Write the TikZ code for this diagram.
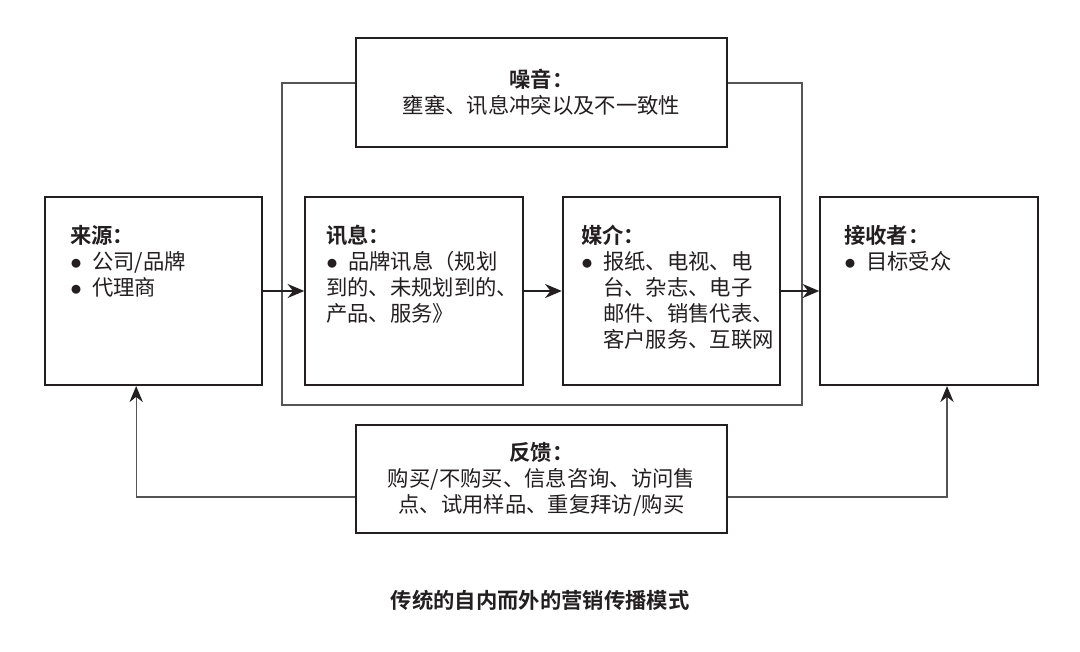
\documentclass[tikz,border=0pt]{standalone}
\usepackage{fontspec}
\setmainfont{Noto Sans CJK SC}[BoldFont={Noto Sans CJK SC Bold}]
\usetikzlibrary{positioning,arrows.meta}
\definecolor{ink}{HTML}{231F20}
\definecolor{wire}{HTML}{555555}
\newcommand\itembul{\makebox[16.5pt][l]{$\bullet$}}

\begin{document}
\begin{tikzpicture}[x=0.75pt,y=-0.75pt, every node/.style={font=\fontsize{16pt}{19.5pt}\selectfont,text=ink},
    box/.style={draw=ink,line width=1.6pt,fill=white,minimum width=163pt,minimum height=141pt},
    wide/.style={box,minimum width=278pt,minimum height=81.5pt,align=center},
    txt/.style={anchor=north west,align=left,inner sep=0pt},
    arr/.style={-{Stealth[length=12.5pt,width=10.5pt]},line width=1.4pt,ink},
    back/.style={-{Stealth[length=12pt,width=10pt,color=ink]},line width=0.9pt,wire}]
  \useasboundingbox (0,0) rectangle (1080,652);
  \node[draw=wire,line width=0.9pt,minimum width=390pt,minimum height=241.5pt] (chan) at (542,244) {};
  \node[wide] (noise) at (541.5,92.5) {\textbf{噪音：}\\壅塞、讯息冲突以及不一致性};
  \node[wide] (fb) at (541.5,479) {\textbf{反馈：}\\购买/不购买、信息咨询、访问售\\点、试用样品、重复拜访/购买};
  \node[box] (src) at (153.5,291) {};
  \node[box] (msg) at (414,291) {};
  \node[box] (med) at (671.5,291) {};
  \node[box] (rcv) at (929,291) {};
  \node[txt] (srctxt) at (70,225) {\textbf{来源：}\\\itembul 公司/品牌\\\itembul 代理商};
  \node[txt] (msgtxt) at (326,225) {\textbf{讯息：}\\\itembul 品牌讯息（规划\\到的、未规划到的、\\产品、服务》};
  \node[txt] (medtxt) at (581,225) {\textbf{媒介：}\\\itembul 报纸、电视、电\\\hspace*{16.5pt}台、杂志、电子\\\hspace*{16.5pt}邮件、销售代表、\\\hspace*{16.5pt}客户服务、互联网};
  \node[txt] (rcvtxt) at (844,225) {\textbf{接收者：}\\\itembul 目标受众};
  \draw[arr] (src)--(msg); \draw[arr] (msg)--(med); \draw[arr] (med)--(rcv);
  \draw[back] ([yshift=-13.5pt]fb.west) -| ([xshift=-13pt]src.south);
  \draw[back] ([yshift=-13.5pt]fb.east) -| ([xshift=13.5pt]rcv.south);
  \node[font=\fontsize{16pt}{19.5pt}\selectfont\bfseries] (cap) at (540,600) {传统的自内而外的营销传播模式};
\end{tikzpicture}
\end{document}
